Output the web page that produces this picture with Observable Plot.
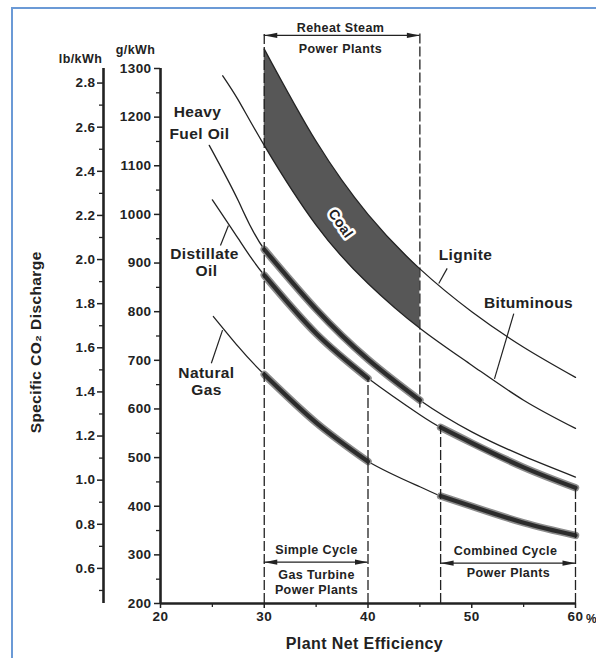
<!DOCTYPE html>
<html><head><meta charset="utf-8">
<script src="https://cdn.jsdelivr.net/npm/d3@7"></script>
<script src="https://cdn.jsdelivr.net/npm/@observablehq/plot@0.6"></script>
<style>
body{margin:0;background:#fff;}
#wrap{position:relative;width:596px;height:658px;overflow:hidden;background:#fff;}
#wrap svg{position:absolute;left:0;top:0;}
#border{position:absolute;left:11px;top:7px;width:800px;height:800px;border-left:2px solid #6b9ad6;border-top:2px solid #6b9ad6;pointer-events:none;}
</style></head><body><div id="wrap"><div id="border"></div></div>
<script>
// ---- data (efficiency %, g CO2/kWh) ----
const ligniteEff = [30, 35, 40, 45, 50, 55, 60];
const ligniteG   = [1340, 1150, 1000, 888, 800, 727, 665];
const bituminousEff = [26, 27.5, 30, 35, 40, 45, 50, 55, 60];
const bituminousG   = [1285, 1235, 1142, 978, 858, 766, 690, 618, 560];
const heavyOilEff = [24.7, 27.5, 30, 35, 40, 45, 50, 55, 60];
const heavyOilG   = [1142, 1028, 928, 805, 702, 618, 553, 503, 460];
const distillateEff = [25, 27.5, 30, 35, 40, 45, 47, 50, 55, 60];
const distillateG   = [1030, 950, 875, 755, 663, 588, 562, 530, 480, 438];
const gasEff = [25.1, 27.5, 30, 35, 40, 45, 47, 50, 55, 60];
const gasG   = [790, 728, 671, 572, 492, 440, 421, 400, 366, 340];

// ranges drawn as heavy bands
const heavyOilBands = [[30, 45]];
const distillateBands = [[30, 40], [47, 60]];
const gasBands = [[30, 40], [47, 60]];
const coalBand = [30, 45];

// axes
const gTicks = [200, 300, 400, 500, 600, 700, 800, 900, 1000, 1100, 1200, 1300];
const gMinor = [250, 350, 450, 550, 650, 750, 850, 950, 1050, 1150, 1250];
const lbTicks = [0.6, 0.8, 1.0, 1.2, 1.4, 1.6, 1.8, 2.0, 2.2, 2.4, 2.6, 2.8];
const lbMinor = [0.5, 0.7, 0.9, 1.1, 1.3, 1.5, 1.7, 1.9, 2.1, 2.3, 2.5, 2.7];
const xTicks = [20, 30, 40, 50, 60];
const xMinor = [25, 35, 45, 55];
const G_PER_LB = 453.592;

// ---- tables ----
const zip = (xs, ys) => xs.map((x, i) => ({x, y: ys[i]}));
const lignite = zip(ligniteEff, ligniteG);
const bituminous = zip(bituminousEff, bituminousG);
const heavyOil = zip(heavyOilEff, heavyOilG);
const distillate = zip(distillateEff, distillateG);
const gas = zip(gasEff, gasG);
const inRange = (d, [a, b]) => d.x >= a - 1e-9 && d.x <= b + 1e-9;
const coalArea = ligniteEff.filter(e => e >= coalBand[0] && e <= coalBand[1]).map(e => ({
  x: e, top: ligniteG[ligniteEff.indexOf(e)], bot: bituminousG[bituminousEff.indexOf(e)]
}));

const bands = [];
heavyOilBands.forEach((r, i) => bands.push({id: "h" + i, pts: heavyOil.filter(d => inRange(d, r))}));
distillateBands.forEach((r, i) => bands.push({id: "d" + i, pts: distillate.filter(d => inRange(d, r))}));
gasBands.forEach((r, i) => bands.push({id: "g" + i, pts: gas.filter(d => inRange(d, r))}));
const bandPts = bands.flatMap(b => b.pts.map(p => ({...p, id: b.id})));

// annotation layout (efficiency, g/kWh)
const dashed = [
  {x: 30, y1: 200, y2: 1372}, {x: 45, y1: 602, y2: 1372},
  {x: 40, y1: 200, y2: 663}, {x: 47, y1: 200, y2: 566}, {x: 60, y1: 200, y2: 440}
];
const spans = [
  {x1: 30, x2: 45, y: 1368}, {x1: 30, x2: 40, y: 285}, {x1: 47, x2: 60, y: 283}
];
const heads = spans.flatMap(s => [{x: s.x1, y: s.y, r: 180}, {x: s.x2, y: s.y, r: 0}]);
const curveLabels = [
  {t: "Heavy", x: 23.57, y: 1210}, {t: "Fuel Oil", x: 23.76, y: 1166},
  {t: "Distillate", x: 24.24, y: 918}, {t: "Oil", x: 24.43, y: 883},
  {t: "Natural", x: 24.43, y: 673}, {t: "Gas", x: 24.43, y: 638},
  {t: "Lignite", x: 49.4, y: 916}, {t: "Bituminous", x: 55.47, y: 817}
];
const noteLabels = [
  {t: "Reheat Steam", x: 37.35, y: 1384}, {t: "Power Plants", x: 37.35, y: 1341},
  {t: "Simple Cycle", x: 35.04, y: 309}, {t: "Gas Turbine", x: 35.04, y: 258}, {t: "Power Plants", x: 35.04, y: 228},
  {t: "Combined Cycle", x: 53.25, y: 307}, {t: "Power Plants", x: 53.54, y: 262}
];
const leaders = [
  {x1: 25.78, y1: 936, x2: 26.55, y2: 977},
  {x1: 24.9, y1: 694, x2: 25.98, y2: 762},
  {x1: 47.63, y1: 889, x2: 46.82, y2: 858},
  {x1: 54.05, y1: 796, x2: 52.19, y2: 662}
];

const headSym = {draw(ctx) { ctx.moveTo(0, 0); ctx.lineTo(-13, -2.6); ctx.lineTo(-13, 2.6); ctx.closePath(); }};
const ink = "#222";

const chart = Plot.plot({
  width: 596, height: 658,
  marginLeft: 160, marginRight: 21, marginTop: 68, marginBottom: 55,
  x: {domain: [20, 60]},
  y: {domain: [200, 1300]},
  style: {fontFamily: "'Liberation Sans', Arial, sans-serif", fontWeight: "bold", color: ink, background: "transparent", letterSpacing: "0.4px"},
  marks: [
    Plot.areaY(coalArea, {x: "x", y1: "bot", y2: "top", fill: "#575757", curve: "natural"}),
    ...[lignite, bituminous, heavyOil, distillate, gas].map(d =>
      Plot.line(d, {x: "x", y: "y", stroke: ink, strokeWidth: 1.3, curve: "natural"})),
    Plot.line(bandPts, {x: "x", y: "y", z: "id", stroke: "#8c8c8c", strokeWidth: 7.5, curve: "natural"}),
    Plot.line(bandPts, {x: "x", y: "y", z: "id", stroke: "#2c2c2c", strokeWidth: 4.2, curve: "natural"}),
    Plot.ruleX(dashed, {x: "x", y1: "y1", y2: "y2", stroke: ink, strokeWidth: 1.3, strokeDasharray: "10,3"}),
    Plot.ruleY(spans, {x1: "x1", x2: "x2", y: "y", stroke: ink, strokeWidth: 1.2}),
    Plot.dot(heads, {x: "x", y: "y", rotate: "r", symbol: headSym, fill: ink, stroke: null, r: 5}),
    // g/kWh axis
    Plot.axisY(gTicks, {label: null, tickSize: 6, tickPadding: 3, fontSize: 13.5, strokeWidth: 1.5, tickFormat: d => String(d)}),
    Plot.axisY(gMinor, {label: null, tickSize: 4, strokeWidth: 1.3, tickFormat: () => ""}),
    Plot.ruleX([20], {y1: 200, y2: 1300, stroke: ink, strokeWidth: 2.6}),
    // lb/kWh axis
    Plot.axisY(lbTicks.map(v => v * G_PER_LB), {label: null, dx: -57, tickSize: 6, tickPadding: 2, fontSize: 13.5, strokeWidth: 1.5, tickFormat: d => (d / G_PER_LB).toFixed(1)}),
    Plot.axisY(lbMinor.map(v => v * G_PER_LB), {label: null, dx: -57, tickSize: 4, strokeWidth: 1.3, tickFormat: () => ""}),
    Plot.ruleX([20], {y1: 200, y2: 1300, dx: -57, stroke: ink, strokeWidth: 2.6}),
    // x axis
    Plot.axisX(xTicks, {label: null, tickSize: 5, tickPadding: 3, fontSize: 13.5, strokeWidth: 1.5, tickFormat: d => String(d)}),
    Plot.axisX(xMinor, {label: null, tickSize: 4, strokeWidth: 1.3, tickFormat: () => ""}),
    Plot.ruleY([200], {x1: 20, x2: 60, stroke: ink, strokeWidth: 2.6}),
    Plot.text(["%"], {x: 60, y: 200, dx: 16, dy: 16, fontSize: 12, fill: ink}),
    // titles
    Plot.text(["Plant Net Efficiency"], {x: 39.66, y: 118, fontSize: 16, fill: ink}),
    Plot.text(["Specific CO₂ Discharge"], {x: 8.05, y: 737, rotate: -90, fontSize: 15.5, fill: ink}),
    Plot.text(["g/kWh"], {x: 17.59, y: 1339, fontSize: 12.5, fill: ink}),
    Plot.text(["lb/kWh"], {x: 12.29, y: 1320, fontSize: 12.5, fill: ink}),
    // labels
    Plot.text(curveLabels, {x: "x", y: "y", text: "t", fontSize: 15.5, fill: ink}),
    Plot.text(noteLabels, {x: "x", y: "y", text: "t", fontSize: 12.5, fill: ink}),
    Plot.link(leaders, {x1: "x1", y1: "y1", x2: "x2", y2: "y2", stroke: ink, strokeWidth: 1.2}),
    Plot.text(["Coal"], {x: 37.35, y: 981, rotate: 55, fontSize: 14, fill: ink, stroke: "white", strokeWidth: 5, paintOrder: "stroke"})
  ]
});
document.getElementById("wrap").prepend(chart);
</script></body></html>
